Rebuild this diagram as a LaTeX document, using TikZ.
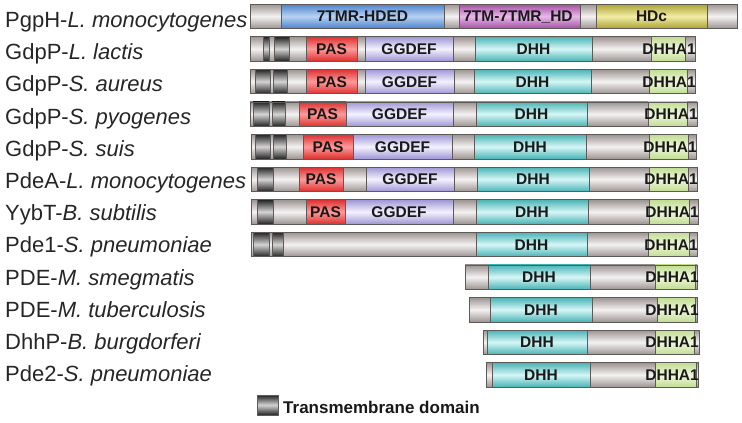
\documentclass[tikz,border=0pt]{standalone}
\usepackage{fontspec}
\setmainfont{Liberation Sans}
\definecolor{gA}{HTML}{9C9390}
\definecolor{gB}{HTML}{F4F2F2}
\definecolor{tA}{HTML}{222222}
\definecolor{tB}{HTML}{D4D4D4}
\definecolor{bA}{HTML}{4A82CC}
\definecolor{bB}{HTML}{B8D2F2}
\definecolor{pA}{HTML}{A24FA2}
\definecolor{pB}{HTML}{EAB8EA}
\definecolor{yA}{HTML}{ABA232}
\definecolor{yB}{HTML}{F2EDA8}
\definecolor{rA}{HTML}{DC3030}
\definecolor{rB}{HTML}{FF9A9A}
\definecolor{lA}{HTML}{9E96D4}
\definecolor{lB}{HTML}{F4F2FF}
\definecolor{cA}{HTML}{48B3B5}
\definecolor{cB}{HTML}{D6F6F6}
\definecolor{hA}{HTML}{C0DC92}
\definecolor{hB}{HTML}{F0F8DC}
\definecolor{edge}{HTML}{5E5A58}
\tikzset{
  seg/.style={draw=edge, line width=0.6pt},
  greyseg/.style={seg, top color=gA, bottom color=gA, middle color=gB},
  tmseg/.style={seg, top color=tA, bottom color=tA, middle color=tB},
  blueseg/.style={seg, top color=bA, bottom color=bA, middle color=bB},
  purpseg/.style={seg, top color=pA, bottom color=pA, middle color=pB},
  yelseg/.style={seg, top color=yA, bottom color=yA, middle color=yB},
  passeg/.style={seg, top color=rA, bottom color=rA, middle color=rB},
  ggseg/.style={seg, top color=lA, bottom color=lA, middle color=lB},
  dhhseg/.style={seg, top color=cA, bottom color=cA, middle color=cB},
  dhaseg/.style={seg, top color=hA, bottom color=hA, middle color=hB},
  dlab/.style={inner sep=0pt, anchor=base, text=black!90, font=\fontsize{15.5}{18}\selectfont\bfseries},
  dlabe/.style={dlab, anchor=base east},
  rlab/.style={inner sep=0pt, anchor=base west, text=black!85, font=\fontsize{22}{26}\selectfont},
  leglab/.style={inner sep=0pt, anchor=base west, text=black!90, font=\fontsize{17}{20}\selectfont\bfseries}
}
\newcommand\bx[4]{\path[#1] (#2,{4+32.6*(#4-1)}) rectangle (#3,{28.5+32.6*(#4-1)});}
\newcommand\lb[5]{\node[#1] (#2) at (#3,{16.25+32.6*(#4-1)+5.6}) {#5};}
\newcommand\rl[3]{\node[rlab] (#1) at (5,{27.5+32.2*(#2-1)}) {#3};}
\begin{document}
\begin{tikzpicture}[x=1pt,y=-1pt]
\useasboundingbox (0,0) rectangle (742,423);
% row labels
\rl{n1}{1}{PgpH-\textit{L. monocytogenes}}
\rl{n2}{2}{GdpP-\textit{L. lactis}}
\rl{n3}{3}{GdpP-\textit{S. aureus}}
\rl{n4}{4}{GdpP-\textit{S. pyogenes}}
\rl{n5}{5}{GdpP-\textit{S. suis}}
\rl{n6}{6}{PdeA-\textit{L. monocytogenes}}
\rl{n7}{7}{YybT-\textit{B. subtilis}}
\rl{n8}{8}{Pde1-\textit{S. pneumoniae}}
\rl{n9}{9}{PDE-\textit{M. smegmatis}}
\rl{n10}{10}{PDE-\textit{M. tuberculosis}}
\rl{n11}{11}{DhhP-\textit{B. burgdorferi}}
\rl{n12}{12}{Pde2-\textit{S. pneumoniae}}
% row 1
\bx{greyseg}{250}{737}{1}
\bx{blueseg}{281}{444}{1}
\bx{purpseg}{459}{580}{1}
\bx{yelseg}{596}{707}{1}
\lb{dlab}{d1a}{362.5}{1}{7TMR-HDED}
\lb{dlab}{d1b}{518}{1}{7TM-7TMR\_HD}
\lb{dlab}{d1c}{651.5}{1}{HDc}
% row 2
\bx{greyseg}{250}{695}{2}
\bx{tmseg}{263}{269}{2}
\bx{tmseg}{274}{289}{2}
\bx{passeg}{306}{357}{2}
\bx{ggseg}{365}{453}{2}
\bx{dhhseg}{475}{592}{2}
\bx{dhaseg}{651}{685}{2}
\lb{dlab}{d2a}{331.5}{2}{PAS}
\lb{dlab}{d2b}{409}{2}{GGDEF}
\lb{dlab}{d2c}{533.5}{2}{DHH}
\lb{dlabe}{d2d}{696}{2}{DHHA1}
% row 3
\bx{greyseg}{250}{695}{3}
\bx{tmseg}{255}{270}{3}
\bx{tmseg}{273}{287}{3}
\bx{passeg}{306}{357}{3}
\bx{ggseg}{365}{454}{3}
\bx{dhhseg}{474}{591}{3}
\bx{dhaseg}{649}{687}{3}
\lb{dlab}{d3a}{331.5}{3}{PAS}
\lb{dlab}{d3b}{409.5}{3}{GGDEF}
\lb{dlab}{d3c}{532.5}{3}{DHH}
\lb{dlabe}{d3d}{696}{3}{DHHA1}
% row 4
\bx{greyseg}{250}{697}{4}
\bx{tmseg}{253}{269}{4}
\bx{tmseg}{272}{285}{4}
\bx{passeg}{299}{346}{4}
\bx{ggseg}{346}{453}{4}
\bx{dhhseg}{476}{587}{4}
\bx{dhaseg}{648}{687}{4}
\lb{dlab}{d4a}{322.5}{4}{PAS}
\lb{dlab}{d4b}{399.5}{4}{GGDEF}
\lb{dlab}{d4c}{531.5}{4}{DHH}
\lb{dlabe}{d4d}{698}{4}{DHHA1}
% row 5
\bx{greyseg}{251}{696}{5}
\bx{tmseg}{255}{270}{5}
\bx{tmseg}{273}{286}{5}
\bx{passeg}{303}{353}{5}
\bx{ggseg}{353}{452}{5}
\bx{dhhseg}{474}{586}{5}
\bx{dhaseg}{649}{688}{5}
\lb{dlab}{d5a}{328}{5}{PAS}
\lb{dlab}{d5b}{402.5}{5}{GGDEF}
\lb{dlab}{d5c}{530}{5}{DHH}
\lb{dlabe}{d5d}{697}{5}{DHHA1}
% row 6
\bx{greyseg}{251}{697}{6}
\bx{tmseg}{257}{273}{6}
\bx{passeg}{299}{343}{6}
\bx{ggseg}{366}{454}{6}
\bx{dhhseg}{477}{589}{6}
\bx{dhaseg}{649}{688}{6}
\lb{dlab}{d6a}{321}{6}{PAS}
\lb{dlab}{d6b}{410}{6}{GGDEF}
\lb{dlab}{d6c}{533}{6}{DHH}
\lb{dlabe}{d6d}{698}{6}{DHHA1}
% row 7
\bx{greyseg}{251}{698}{7}
\bx{tmseg}{257}{273}{7}
\bx{passeg}{306}{345}{7}
\bx{ggseg}{345}{453}{7}
\bx{dhhseg}{476}{588}{7}
\bx{dhaseg}{649}{689}{7}
\lb{dlab}{d7a}{325.5}{7}{PAS}
\lb{dlab}{d7b}{399}{7}{GGDEF}
\lb{dlab}{d7c}{532}{7}{DHH}
\lb{dlabe}{d7d}{699}{7}{DHHA1}
% row 8
\bx{greyseg}{251}{697}{8}
\bx{tmseg}{253}{269}{8}
\bx{tmseg}{272}{283}{8}
\bx{dhhseg}{476}{587}{8}
\bx{dhaseg}{648}{689}{8}
\lb{dlab}{d8c}{531.5}{8}{DHH}
\lb{dlabe}{d8d}{698}{8}{DHHA1}
% row 9
\bx{greyseg}{465}{697}{9}
\bx{dhhseg}{488}{590}{9}
\bx{dhaseg}{655}{695}{9}
\lb{dlab}{d9c}{539}{9}{DHH}
\lb{dlabe}{d9d}{699}{9}{DHHA1}
% row 10
\bx{greyseg}{469}{697}{10}
\bx{dhhseg}{490}{592}{10}
\bx{dhaseg}{657}{695}{10}
\lb{dlab}{d10c}{541}{10}{DHH}
\lb{dlabe}{d10d}{699}{10}{DHHA1}
% row 11
\bx{greyseg}{483}{699}{11}
\bx{dhhseg}{487}{587}{11}
\bx{dhaseg}{655}{694}{11}
\lb{dlab}{d11c}{537}{11}{DHH}
\lb{dlabe}{d11d}{699}{11}{DHHA1}
% row 12
\bx{greyseg}{486}{698}{12}
\bx{dhhseg}{492}{590}{12}
\bx{dhaseg}{655}{696}{12}
\lb{dlab}{d12c}{541}{12}{DHH}
\lb{dlabe}{d12d}{699}{12}{DHHA1}
% legend
\path[tmseg] (257,395) rectangle (278,415);
\node[leglab] (leg) at (283,413) {Transmembrane domain};
\end{tikzpicture}
\end{document}
